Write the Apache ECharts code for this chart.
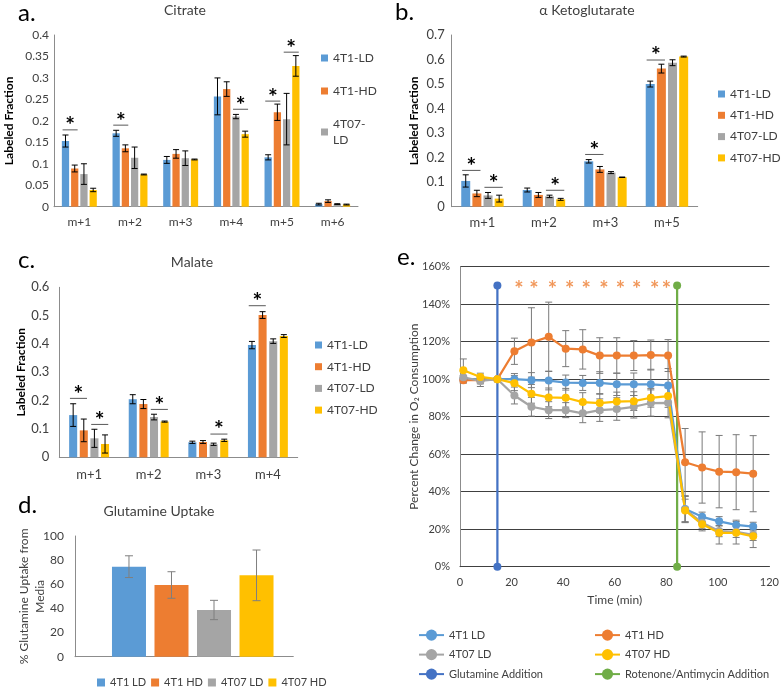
<!DOCTYPE html>
<html><head><meta charset="utf-8">
<script src="https://cdn.jsdelivr.net/npm/echarts@6/dist/echarts.min.js"></script>
<style>html,body{margin:0;padding:0;background:#fff;}#c{width:782px;height:692px;}</style>
</head><body><div id="c"></div>
<script>
// ---------- DATA ----------
const seriesNames = ['4T1-LD', '4T1-HD', '4T07-LD', '4T07-HD'];

// a. Citrate
const citrateCats = ['m+1', 'm+2', 'm+3', 'm+4', 'm+5', 'm+6'];
const citrate4T1LD = [0.153, 0.171, 0.109, 0.257, 0.115, 0.006];
const citrate4T1HD = [0.089, 0.136, 0.123, 0.274, 0.220, 0.013];
const citrate4T07LD = [0.076, 0.114, 0.113, 0.210, 0.204, 0.006];
const citrate4T07HD = [0.039, 0.075, 0.110, 0.169, 0.328, 0.005];
const citrate4T1LDErr = [0.014, 0.007, 0.008, 0.043, 0.006, 0.002];
const citrate4T1HDErr = [0.008, 0.008, 0.010, 0.017, 0.019, 0.003];
const citrate4T07LDErr = [0.024, 0.025, 0.017, 0.005, 0.060, 0.001];
const citrate4T07HDErr = [0.004, 0.001, 0.001, 0.007, 0.024, 0.001];
const citrateSig = [[0, 0, 1, 0.179], [1, 0, 1, 0.190], [3, 2, 3, 0.227], [4, 0, 1, 0.246], [4, 2, 3, 0.360]];
const citrateTicks = [0, 0.4, 0.05];

// b. alpha Ketoglutarate
const akgCats = ['m+1', 'm+2', 'm+3', 'm+5'];
const akg4T1LD = [0.105, 0.068, 0.185, 0.500];
const akg4T1HD = [0.054, 0.048, 0.152, 0.563];
const akg4T07LD = [0.046, 0.042, 0.139, 0.587];
const akg4T07HD = [0.033, 0.030, 0.120, 0.612];
const akg4T1LDErr = [0.025, 0.008, 0.007, 0.012];
const akg4T1HDErr = [0.013, 0.010, 0.012, 0.018];
const akg4T07LDErr = [0.012, 0.005, 0.004, 0.012];
const akg4T07HDErr = [0.014, 0.004, 0.001, 0.002];
const akgSig = [[0, 0, 1, 0.148], [0, 2, 3, 0.079], [1, 2, 3, 0.067], [2, 0, 1, 0.213], [3, 0, 1, 0.598]];
const akgTicks = [0, 0.7, 0.1];

// c. Malate
const malateCats = ['m+1', 'm+2', 'm+3', 'm+4'];
const malate4T1LD = [0.149, 0.205, 0.053, 0.396];
const malate4T1HD = [0.095, 0.188, 0.054, 0.502];
const malate4T07LD = [0.067, 0.142, 0.046, 0.410];
const malate4T07HD = [0.047, 0.126, 0.060, 0.428];
const malate4T1LDErr = [0.040, 0.016, 0.004, 0.013];
const malate4T1HDErr = [0.040, 0.016, 0.005, 0.012];
const malate4T07LDErr = [0.032, 0.010, 0.004, 0.008];
const malate4T07HDErr = [0.032, 0.002, 0.004, 0.005];
const malateSig = [[0, 0, 1, 0.208], [0, 2, 3, 0.116], [1, 2, 3, 0.169], [2, 2, 3, 0.082], [3, 0, 1, 0.535]];
const malateTicks = [0, 0.6, 0.1];

// d. Glutamine uptake
const gluNames = ['4T1 LD', '4T1 HD', '4T07 LD', '4T07 HD'];
const gluUptake = [74.6, 59.4, 38.7, 67.4];
const gluErr = [9, 11, 8, 21];
const gluTicks = [0, 100, 20];

// e. O2 consumption
const eTime = [1.3, 7.9, 14.5, 21.1, 27.7, 34.4, 41.0, 47.6, 54.2, 60.8, 67.4, 74.0, 80.7, 87.3, 93.9, 100.5, 107.1, 113.7];
const o2_4T1LD = [100, 100, 100, 100, 99.5, 99.3, 98.2, 98, 98, 97.3, 97.3, 97.3, 96.7, 30.8, 26.6, 24.2, 22.3, 21.4];
const o2_4T1HD = [99.5, 99.5, 100, 114.9, 119.6, 122.6, 116.3, 115.9, 112.6, 112.6, 112.6, 112.9, 112.6, 55.7, 52.9, 50.7, 50.4, 49.6];
const o2_4T07LD = [101, 99.1, 100, 91.3, 85.3, 83.5, 83.5, 81.8, 83.5, 84.1, 85.3, 87.3, 87.4, 30.5, 23.5, 19, 18.6, 17];
const o2_4T07HD = [104.8, 101.2, 100, 97.9, 92.2, 90.3, 90.1, 87.8, 87.3, 88.1, 88.3, 90.1, 91, 30, 22.6, 18.1, 18.1, 16.2];
const o2_4T1LDErr = [2, 2, 0, 3, 4, 5, 4, 4, 6, 6, 6, 8, 9, 7, 2.5, 2.5, 2.5, 2.3];
const o2_4T1HDErr = [1, 2, 0, 7, 18.5, 18.5, 9.6, 10.5, 9.5, 9.5, 8, 8, 8.5, 18, 19, 19.3, 20, 20.3];
const o2_4T07LDErr = [3, 3, 0, 4.5, 5, 4.5, 4, 5, 6, 6, 6, 7, 8, 7, 3, 3, 3, 3];
const o2_4T07HDErr = [6, 2, 0, 4, 5, 5, 5, 5, 5, 5, 5, 5, 6, 6, 3.5, 6, 6, 6];
const eStarT = [22.9, 28.7, 35.8, 42.5, 48.9, 55.8, 62.2, 68.5, 75.5, 80.1];
const eStarY = 150.5;
const gluAddT = 14.5;
const rotAddT = 84.2;
const addLineY = [0, 150];
const eXTicks = [0, 120, 20];
const eYTicks = [0, 160, 20];

// ---------- STYLE ----------
const FONT = 'Lato, "Liberation Sans", sans-serif';
const COLS = ['#5B9BD5', '#ED7D31', '#A5A5A5', '#FFC000'];
const TXT = '#404040';
const AXC = '#8c8c8c';

const chart = echarts.init(document.getElementById('c'), null, { renderer: 'canvas' });

function barCenterX(api, cat, bi, n, catGap, barGap) {
  const c = api.coord([cat, 0]);
  const band = api.size([1, 0])[0];
  const avail = band * (1 - catGap);
  const w = avail / (n + (n - 1) * barGap);
  return { x: c[0] - avail / 2 + bi * w * (1 + barGap) + w / 2, w: w };
}

function barErrSeries(xi, yi, n, catGap, barGap, vals, errs, bi, color, cap) {
  return {
    type: 'custom', xAxisIndex: xi, yAxisIndex: yi, z: 5, silent: true,
    data: vals.map((v, i) => [i, v, errs[i], bi]),
    renderItem: function (params, api) {
      const cat = api.value(0), v = api.value(1), e = api.value(2), b = api.value(3);
      const bc = barCenterX(api, cat, b, n, catGap, barGap);
      const yT = api.coord([cat, v + e])[1], yB = api.coord([cat, Math.max(0, v - e)])[1];
      const st = { stroke: color, lineWidth: 1 };
      return { type: 'group', children: [
        { type: 'line', shape: { x1: bc.x, y1: yT, x2: bc.x, y2: yB }, style: st },
        { type: 'line', shape: { x1: bc.x - cap, y1: yT, x2: bc.x + cap, y2: yT }, style: st },
        { type: 'line', shape: { x1: bc.x - cap, y1: yB, x2: bc.x + cap, y2: yB }, style: st }
      ]};
    }
  };
}

function sigSeries(xi, yi, n, catGap, barGap, sig) {
  return {
    type: 'custom', xAxisIndex: xi, yAxisIndex: yi, z: 6, silent: true,
    data: sig.map(s => [s[0], s[3], s[1], s[2]]),
    renderItem: function (params, api) {
      const cat = api.value(0), y = api.value(1), f = api.value(2), t = api.value(3);
      const a = barCenterX(api, cat, f, n, catGap, barGap);
      const b = barCenterX(api, cat, t, n, catGap, barGap);
      const py = api.coord([cat, y])[1];
      const x1 = a.x - 0.4 * a.w, x2 = b.x + 0.4 * b.w;
      return { type: 'group', children: [
        { type: 'line', shape: { x1: x1, y1: py, x2: x2, y2: py }, style: { stroke: '#595959', lineWidth: 1 } },
        { type: 'text', x: (x1 + x2) / 2, y: py - 4, style: { text: '*', fontSize: 23, fontWeight: 'bold', fontFamily: FONT, fill: '#000', align: 'center', verticalAlign: 'middle' } }
      ]};
    }
  };
}

function barPanel(xi, yi, catGap, barGap, valsList, errsList, names, sig) {
  const out = [];
  valsList.forEach((vals, bi) => {
    out.push({
      type: 'bar', name: names[bi], xAxisIndex: xi, yAxisIndex: yi, data: vals,
      itemStyle: { color: COLS[bi] }, barGap: (barGap * 100) + '%', barCategoryGap: (catGap * 100) + '%', silent: true
    });
  });
  valsList.forEach((vals, bi) => out.push(barErrSeries(xi, yi, valsList.length, catGap, barGap, vals, errsList[bi], bi, '#000', 3)));
  if (sig) out.push(sigSeries(xi, yi, valsList.length, catGap, barGap, sig));
  return out;
}

function catAxis(gi, cats, fs, margin) {
  return { type: 'category', gridIndex: gi, data: cats, axisLine: { lineStyle: { color: AXC } }, axisTick: { show: false },
    axisLabel: { fontSize: fs, color: TXT, fontFamily: FONT, margin: margin } };
}
function valAxis(gi, ticks, fs, margin, name, gap) {
  return { type: 'value', gridIndex: gi, min: ticks[0], max: ticks[1], interval: ticks[2],
    axisLine: { show: true, lineStyle: { color: AXC } }, axisTick: { show: false }, splitLine: { show: false },
    axisLabel: { fontSize: fs, color: TXT, fontFamily: FONT, margin: margin },
    name: name, nameLocation: 'middle', nameGap: gap, nameMoveOverlap: false,
    nameTextStyle: { fontSize: 12, fontWeight: 'bold', color: '#000', fontFamily: FONT } };
}

// ---------- SERIES ----------
const series = [];
const eDefs = [
  { name: 'e:4T1 LD', vals: o2_4T1LD, err: o2_4T1LDErr, color: COLS[0] },
  { name: 'e:4T1 HD', vals: o2_4T1HD, err: o2_4T1HDErr, color: COLS[1] },
  { name: 'e:4T07 LD', vals: o2_4T07LD, err: o2_4T07LDErr, color: COLS[2] },
  { name: 'e:4T07 HD', vals: o2_4T07HD, err: o2_4T07HDErr, color: COLS[3] }
];
eDefs.forEach(d => series.push({
  type: 'line', name: d.name, xAxisIndex: 5, yAxisIndex: 5, z: 4, silent: true,
  data: eTime.map((t, i) => [t, d.vals[i]]), symbol: 'circle', symbolSize: 8, showSymbol: true,
  itemStyle: { color: d.color }, lineStyle: { color: d.color, width: 2.25 }
}));
series.push({
  type: 'line', name: 'e:Glutamine Addition', xAxisIndex: 5, yAxisIndex: 5, z: 3, silent: true,
  data: addLineY.map(y => [gluAddT, y]), symbol: 'circle', symbolSize: 8,
  itemStyle: { color: '#4472C4' }, lineStyle: { color: '#4472C4', width: 2.25 }
});
series.push({
  type: 'line', name: 'e:Rotenone/Antimycin Addition', xAxisIndex: 5, yAxisIndex: 5, z: 3, silent: true,
  data: addLineY.map(y => [rotAddT, y]), symbol: 'circle', symbolSize: 8,
  itemStyle: { color: '#70AD47' }, lineStyle: { color: '#70AD47', width: 2.25 }
});
eDefs.forEach(d => series.push({
  type: 'custom', xAxisIndex: 5, yAxisIndex: 5, z: 3, silent: true,
  data: eTime.map((t, i) => [t, d.vals[i], d.err[i]]),
  renderItem: function (params, api) {
    const x = api.value(0), v = api.value(1), e = api.value(2);
    if (!e) return { type: 'group', children: [] };
    const p1 = api.coord([x, v + e]), p2 = api.coord([x, v - e]);
    const st = { stroke: '#7a7a7a', lineWidth: 1 };
    return { type: 'group', children: [
      { type: 'line', shape: { x1: p1[0], y1: p1[1], x2: p2[0], y2: p2[1] }, style: st },
      { type: 'line', shape: { x1: p1[0] - 3.5, y1: p1[1], x2: p1[0] + 3.5, y2: p1[1] }, style: st },
      { type: 'line', shape: { x1: p2[0] - 3.5, y1: p2[1], x2: p2[0] + 3.5, y2: p2[1] }, style: st }
    ]};
  }
}));
series.push({
  type: 'scatter', name: 'eStars', xAxisIndex: 5, yAxisIndex: 5, z: 6, silent: true,
  data: eStarT.map(t => [t, eStarY]), symbolSize: 1, itemStyle: { color: 'rgba(0,0,0,0)' },
  label: { show: true, position: 'inside', formatter: '*', color: '#ED7D31', fontSize: 22, fontWeight: 'bold', fontFamily: FONT, offset: [0, 5] }
});

// a, b, c
series.push(...barPanel(0, 0, 0.31, 0.27,
  [citrate4T1LD, citrate4T1HD, citrate4T07LD, citrate4T07HD],
  [citrate4T1LDErr, citrate4T1HDErr, citrate4T07LDErr, citrate4T07HDErr], seriesNames, citrateSig));
series.push(...barPanel(1, 1, 0.31, 0.24,
  [akg4T1LD, akg4T1HD, akg4T07LD, akg4T07HD],
  [akg4T1LDErr, akg4T1HDErr, akg4T07LDErr, akg4T07HDErr], seriesNames, akgSig));
series.push(...barPanel(2, 2, 0.33, 0.32,
  [malate4T1LD, malate4T1HD, malate4T07LD, malate4T07HD],
  [malate4T1LDErr, malate4T1HDErr, malate4T07LDErr, malate4T07HDErr], seriesNames, malateSig));

// d
const dCatGap = 0.26, dBarGap = 0.25;
gluUptake.forEach((v, i) => series.push({
  type: 'bar', name: 'd:' + gluNames[i], xAxisIndex: 4, yAxisIndex: 4, data: [v], silent: true,
  itemStyle: { color: COLS[i] }, barGap: (dBarGap * 100) + '%', barCategoryGap: (dCatGap * 100) + '%'
}));
gluUptake.forEach((v, i) => series.push(barErrSeries(4, 4, 4, dCatGap, dBarGap, [v], [gluErr[i]], i, '#7f7f7f', 4)));

const stripPrefix = n => n.replace(/^[de]:/, '');
const legendText = { fontSize: 12, color: TXT, fontFamily: FONT };
const legendTextSm = { fontSize: 11, color: TXT, fontFamily: FONT };

const option = {
  animation: false,
  backgroundColor: '#fff',
  textStyle: { fontFamily: FONT },
  grid: [
    { left: 54, top: 35, width: 304, height: 171.7 },
    { left: 451.7, top: 35, width: 246, height: 171.7 },
    { left: 59.3, top: 287.3, width: 238.4, height: 170 },
    { left: 75, top: 536, width: 218.3, height: 120.7 },
    { left: 83.6, top: 536, width: 218.3, height: 120.7 },
    { left: 460, top: 266.7, width: 311, height: 300 }
  ],
  xAxis: [
    catAxis(0, citrateCats, 12, 9),
    catAxis(1, akgCats, 13, 10),
    catAxis(2, malateCats, 13, 11),
    { type: 'value', gridIndex: 3, min: 0, max: 1, axisLine: { show: true, lineStyle: { color: AXC } }, axisTick: { show: false }, axisLabel: { show: false }, splitLine: { show: false } },
    { type: 'category', gridIndex: 4, data: ['Glutamine Uptake'], show: false },
    { type: 'value', gridIndex: 5, min: eXTicks[0], max: eXTicks[1], interval: eXTicks[2],
      axisLine: { show: true, lineStyle: { color: '#404040' } }, axisTick: { show: false }, splitLine: { show: false },
      axisLabel: { fontSize: 11, color: TXT, fontFamily: FONT, margin: 10 },
      name: 'Time (min)', nameLocation: 'middle', nameGap: 27, nameMoveOverlap: false, nameTextStyle: { fontSize: 12, color: TXT, fontFamily: FONT } }
  ],
  yAxis: [
    valAxis(0, citrateTicks, 12, 5, 'Labeled Fraction', 39),
    valAxis(1, akgTicks, 13, 7, 'Labeled Fraction', 31.5),
    valAxis(2, malateTicks, 13, 10, 'Labeled Fraction', 32),
    Object.assign(valAxis(3, gluTicks, 12, 11, '% Glutamine Uptake from\nMedia', 27), { nameTextStyle: { fontSize: 12, color: TXT, fontFamily: FONT, lineHeight: 16 } }),
    { type: 'value', gridIndex: 4, min: gluTicks[0], max: gluTicks[1], show: false },
    { type: 'value', gridIndex: 5, min: eYTicks[0], max: eYTicks[1], interval: eYTicks[2],
      axisLine: { show: true, lineStyle: { color: '#8c8c8c' } }, axisTick: { show: false },
      splitLine: { show: true, lineStyle: { color: '#404040', width: 1 } },
      axisLabel: { fontSize: 11, color: TXT, fontFamily: FONT, margin: 10, formatter: '{value}%' },
      name: 'Percent Change in O\u2082 Consumption', nameLocation: 'middle', nameGap: 40, nameMoveOverlap: false,
      nameTextStyle: { fontSize: 12, color: TXT, fontFamily: FONT } }
  ],
  legend: [
    { data: ['4T1-LD', '4T1-HD', '4T07-LD'], orient: 'vertical', left: 321, top: 50, padding: 0, itemGap: 17, itemWidth: 7, itemHeight: 7, icon: 'rect',
      formatter: n => n === '4T07-LD' ? '4T07-\nLD' : n, textStyle: Object.assign({ lineHeight: 16 }, legendText), selectedMode: false },
    { data: seriesNames, orient: 'vertical', left: 718, top: 88, padding: 0, itemGap: 9.3, itemWidth: 7, itemHeight: 7, icon: 'rect',
      textStyle: legendText, selectedMode: false },
    { data: seriesNames, orient: 'vertical', left: 315, top: 339, padding: 0, itemGap: 9.7, itemWidth: 7, itemHeight: 7, icon: 'rect',
      textStyle: legendText, selectedMode: false },
    { data: gluNames.map(n => 'd:' + n), orient: 'horizontal', left: 97, top: 677, padding: 0, itemGap: 5, itemWidth: 8, itemHeight: 8, icon: 'rect',
      formatter: stripPrefix, textStyle: legendTextSm, selectedMode: false },
    { data: ['e:4T1 LD', 'e:4T07 LD', 'e:Glutamine Addition'], orient: 'vertical', left: 418, top: 629.5, height: 62, padding: 0, itemGap: 8.3, itemWidth: 25, itemHeight: 14,
      formatter: stripPrefix, textStyle: legendTextSm, selectedMode: false },
    { data: ['e:4T1 HD', 'e:4T07 HD', 'e:Rotenone/Antimycin Addition'], orient: 'vertical', left: 594, top: 629.5, height: 62, padding: 0, itemGap: 8.3, itemWidth: 25, itemHeight: 14,
      formatter: stripPrefix, textStyle: legendTextSm, selectedMode: false }
  ],
  graphic: [
    { type: 'text', x: 18, y: 13, style: { text: 'a.', fontSize: 24, fontFamily: FONT, fill: '#000', verticalAlign: 'middle' } },
    { type: 'text', x: 395, y: 12, style: { text: 'b.', fontSize: 24, fontFamily: FONT, fill: '#000', verticalAlign: 'middle' } },
    { type: 'text', x: 18, y: 260, style: { text: 'c.', fontSize: 24, fontFamily: FONT, fill: '#000', verticalAlign: 'middle' } },
    { type: 'text', x: 18, y: 505, style: { text: 'd.', fontSize: 24, fontFamily: FONT, fill: '#000', verticalAlign: 'middle' } },
    { type: 'text', x: 397, y: 257, style: { text: 'e.', fontSize: 24, fontFamily: FONT, fill: '#000', verticalAlign: 'middle' } },
    { type: 'text', x: 185, y: 10, style: { text: 'Citrate', fontSize: 14, fontFamily: FONT, fill: TXT, align: 'center', verticalAlign: 'middle' } },
    { type: 'text', x: 587, y: 10, style: { text: '\u03b1 Ketoglutarate', fontSize: 14, fontFamily: FONT, fill: TXT, align: 'center', verticalAlign: 'middle' } },
    { type: 'text', x: 192, y: 262, style: { text: 'Malate', fontSize: 14, fontFamily: FONT, fill: TXT, align: 'center', verticalAlign: 'middle' } },
    { type: 'text', x: 159, y: 511, style: { text: 'Glutamine Uptake', fontSize: 14, fontFamily: FONT, fill: TXT, align: 'center', verticalAlign: 'middle' } }
  ],
  series: series
};
chart.setOption(option);
</script>
</body></html>
